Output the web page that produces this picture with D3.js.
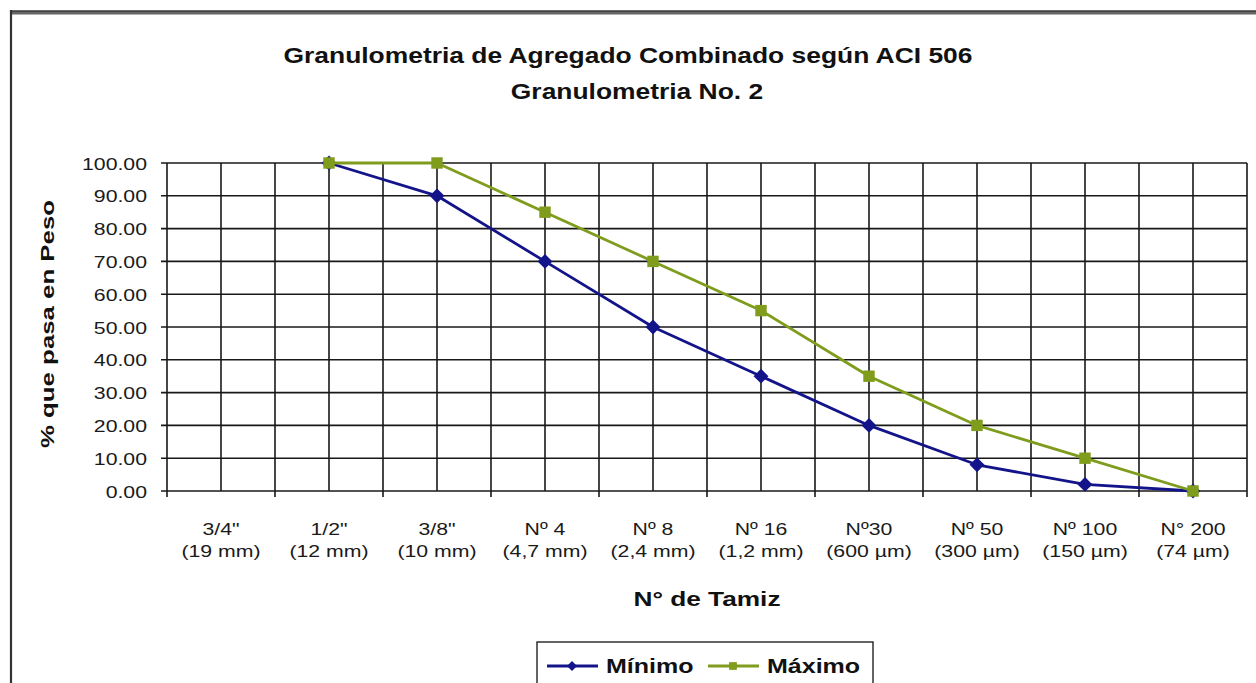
<!DOCTYPE html>
<html>
<head>
<meta charset="utf-8">
<script src="https://cdn.jsdelivr.net/npm/d3@7"></script>
<style>
  html, body { margin: 0; padding: 0; background: #fff; }
  svg { display: block; font-family: "Liberation Sans", Arial, sans-serif; }
</style>
</head>
<body>
<svg id="chart" width="1256" height="683"></svg>
<script>
"use strict";

// sieve names and sizes (x categories)
var sieves = ['3/4"', '1/2"', '3/8"', "Nº 4", "Nº 8", "Nº 16", "Nº30", "Nº 50", "Nº 100", "N° 200"];
var sieveSizes = ["(19 mm)", "(12 mm)", "(10 mm)", "(4,7 mm)", "(2,4 mm)", "(1,2 mm)", "(600 µm)", "(300 µm)", "(150 µm)", "(74 µm)"];
// % passing, null = no point
var minimo = [null, 100, 90, 70, 50, 35, 20, 8, 2, 0];
var maximo = [null, 100, 100, 85, 70, 55, 35, 20, 10, 0];
var yTicks = [0, 10, 20, 30, 40, 50, 60, 70, 80, 90, 100];

var config = {
  margin: { l: 167, r: 1247, t: 163, b: 491 },
  stretch: 1.25,
  gridColor: "#181818",
  minColor: "#14148a",
  maxColor: "#7f9c1c"
};

var svg = d3.select("#chart");

// the picture is a bit wide, so text is widened to match
function widen(sel, k) {
  sel.each(function() {
    var w = this.getComputedTextLength();
    d3.select(this).attr("textLength", w * k).attr("lengthAdjust", "spacingAndGlyphs");
  });
}

var x = d3.scaleBand().domain(sieves).range([config.margin.l, config.margin.r]).padding(0);
var y = d3.scaleLinear().domain([0, 100]).range([config.margin.b, config.margin.t]);
var bw = x.bandwidth();
function cx(i) { return x(sieves[i]) + bw / 2; }

// frame
svg.append("line")
  .attr("x1", 10).attr("x2", 1256).attr("y1", 12.5).attr("y2", 12.5)
  .attr("stroke", "#666").attr("stroke-width", 4);
svg.append("line")
  .attr("x1", 10).attr("x2", 1256).attr("y1", 11).attr("y2", 11)
  .attr("stroke", "#222").attr("stroke-width", 1.2);
svg.append("line")
  .attr("x1", 11).attr("x2", 11).attr("y1", 10).attr("y2", 683)
  .attr("stroke", "#333").attr("stroke-width", 2.2);

// titles
var title = svg.append("text")
  .attr("x", 628).attr("y", 63)
  .attr("text-anchor", "middle")
  .attr("font-size", 22).attr("font-weight", "bold").attr("fill", "#111")
  .text("Granulometria de Agregado Combinado según ACI 506");
widen(title, 1.2);
var title2 = svg.append("text")
  .attr("x", 637).attr("y", 99)
  .attr("text-anchor", "middle")
  .attr("font-size", 22).attr("font-weight", "bold").attr("fill", "#111")
  .text("Granulometria No. 2");
widen(title2, 1.2);

// grid
var grid = svg.append("g").attr("stroke", config.gridColor).attr("stroke-width", 1.6);
grid.selectAll("line.h")
  .data(yTicks)
  .enter().append("line")
  .attr("x1", config.margin.l - 6).attr("x2", config.margin.r)
  .attr("y1", function(d) { return y(d); }).attr("y2", function(d) { return y(d); });

var vLines = [];
sieves.forEach(function(s) { vLines.push({ x: x(s), edge: true }); vLines.push({ x: x(s) + bw / 2, edge: false }); });
vLines.push({ x: config.margin.r, edge: true });
grid.selectAll("line.v")
  .data(vLines)
  .enter().append("line")
  .attr("x1", function(d) { return d.x; }).attr("x2", function(d) { return d.x; })
  .attr("y1", config.margin.t)
  .attr("y2", function(d) { return d.edge ? config.margin.b + 6 : config.margin.b; });

// y axis labels
var yAxis = svg.append("g")
  .attr("transform", "translate(" + config.margin.l + ",0)")
  .call(d3.axisLeft(y).tickValues(yTicks).tickFormat(d3.format(".2f")).tickSize(0).tickPadding(20));
yAxis.select(".domain").remove();
yAxis.selectAll("text")
  .attr("font-family", "Liberation Sans, Arial, sans-serif")
  .attr("font-size", 17).attr("fill", "#1a1a1a")
  .attr("dy", "0.36em");
widen(yAxis.selectAll("text"), config.stretch);

// x labels, two lines
var xl = svg.append("g").attr("font-size", 17).attr("fill", "#1a1a1a").attr("text-anchor", "middle");
var t1 = xl.selectAll("text.l1")
  .data(sieves)
  .enter().append("text")
  .attr("x", function(d) { return x(d) + bw / 2; })
  .attr("y", 535)
  .text(function(d) { return d; });
widen(t1, config.stretch);
var t2 = xl.selectAll("text.l2")
  .data(sieveSizes)
  .enter().append("text")
  .attr("x", function(d, i) { return cx(i); })
  .attr("y", 557)
  .text(function(d) { return d; });
widen(t2, config.stretch);

// axis titles
var xTitle = svg.append("text")
  .attr("x", (config.margin.l + config.margin.r) / 2).attr("y", 606)
  .attr("text-anchor", "middle")
  .attr("font-size", 21).attr("font-weight", "bold").attr("fill", "#111")
  .text("N° de Tamiz");
widen(xTitle, config.stretch);
svg.append("text")
  .attr("transform", "translate(54,324) rotate(-90)")
  .attr("text-anchor", "middle")
  .attr("font-size", 19).attr("font-weight", "bold").attr("fill", "#111")
  .attr("textLength", 248).attr("lengthAdjust", "spacingAndGlyphs")
  .text("% que pasa en Peso");

// series
var line = d3.line()
  .defined(function(d) { return d.v !== null; })
  .x(function(d) { return cx(d.i); })
  .y(function(d) { return y(d.v); });

// diamond = square turned 45 degrees, like the excel marker
function marker(kind, size) {
  return { d: d3.symbol().type(d3.symbolSquare).size(size)(), rot: kind === "diamond" ? 45 : 0 };
}

function drawSeries(values, color, kind, size) {
  var pts = values.map(function(v, i) { return { i: i, v: v }; });
  var m = marker(kind, size);
  svg.append("path")
    .datum(pts)
    .attr("fill", "none").attr("stroke", color).attr("stroke-width", 2.8)
    .attr("stroke-linejoin", "round")
    .attr("d", line);
  svg.selectAll(null)
    .data(pts.filter(function(d) { return d.v !== null; }))
    .enter().append("path")
    .attr("transform", function(d) { return "translate(" + cx(d.i) + "," + y(d.v) + ") rotate(" + m.rot + ")"; })
    .attr("d", m.d)
    .attr("fill", color);
}
drawSeries(minimo, config.minColor, "diamond", 110);
drawSeries(maximo, config.maxColor, "square", 130);

// legend
var lg = svg.append("g");
lg.append("rect")
  .attr("x", 537).attr("y", 642).attr("width", 336).attr("height", 50)
  .attr("fill", "#fff").attr("stroke", "#222").attr("stroke-width", 1.4);
var items = [
  { name: "Mínimo", color: config.minColor, kind: "diamond", size: 50, x0: 547 },
  { name: "Máximo", color: config.maxColor, kind: "square", size: 60, x0: 708 }
];
items.forEach(function(it) {
  var m = marker(it.kind, it.size);
  lg.append("line")
    .attr("x1", it.x0).attr("x2", it.x0 + 51).attr("y1", 666).attr("y2", 666)
    .attr("stroke", it.color).attr("stroke-width", 2.8);
  lg.append("path")
    .attr("transform", "translate(" + (it.x0 + 25) + ",666) rotate(" + m.rot + ")")
    .attr("d", m.d)
    .attr("fill", it.color);
  var t = lg.append("text")
    .attr("x", it.x0 + 59).attr("y", 673)
    .attr("font-size", 20).attr("font-weight", "bold").attr("fill", "#111")
    .text(it.name);
  widen(t, config.stretch);
});
</script>
</body>
</html>
